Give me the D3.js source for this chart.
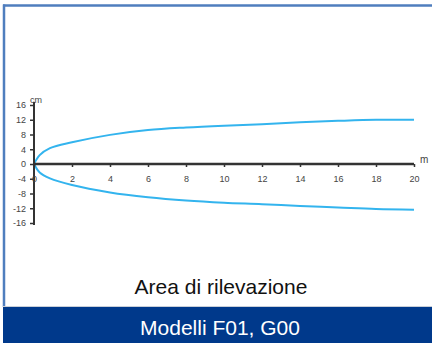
<!DOCTYPE html>
<html lang="it">
<head>
<meta charset="UTF-8">
<title>Area di rilevazione</title>
<style>
    body { margin: 0; background: #fff; }
    svg text { font-family: 'Liberation Sans', Arial, sans-serif; }
</style>
<script src="https://d3js.org/d3.v7.min.js"></script>
</head>
<body>
<svg width="432" height="343"></svg>
<script>
    // distance in m
    const distances = [0, 0.3, 0.84, 2, 4, 6, 8, 10, 12, 14, 16, 18, 20];
    // upper and lower boundary in cm
    const upperValues = [0, 2.4, 4.3, 5.9, 7.9, 9.2, 9.9, 10.4, 10.8, 11.3, 11.7, 12, 12];
    const lowerValues = [0, -2.3, -3.9, -5.7, -7.7, -9, -9.9, -10.5, -10.9, -11.4, -11.8, -12.2, -12.4];
    const xTicks = [0, 2, 4, 6, 8, 10, 12, 14, 16, 18, 20];
    const yTicks = [16, 12, 8, 4, 0, -4, -8, -12, -16];
    const title = "Area di rilevazione";
    const footer = "Modelli F01, G00";

    const width = 432, height = 343;
    const svg = d3.select("svg");

    // frame
    svg.append("rect").attr("x", 0).attr("y", 0).attr("width", width).attr("height", height).attr("fill", "#fff");
    svg.append("line").attr("x1", 3).attr("x2", width).attr("y1", 5.5).attr("y2", 5.5)
        .attr("stroke", "#4f7ebe").attr("stroke-width", 2.5);
    svg.append("line").attr("x1", 4).attr("x2", 4).attr("y1", 4.5).attr("y2", 307)
        .attr("stroke", "#4f7ebe").attr("stroke-width", 2.5);
    svg.append("line").attr("x1", 3).attr("x2", width).attr("y1", 306.5).attr("y2", 306.5)
        .attr("stroke", "#c9cfd8").attr("stroke-width", 1);
    svg.append("rect").attr("x", 3).attr("y", 307).attr("width", width - 3).attr("height", height - 307)
        .attr("fill", "#00398b");

    const x = d3.scaleLinear().domain([0, 20]).range([34, 414]);
    const y = d3.scaleLinear().domain([-16, 16]).range([223, 105]);

    // curves
    const line = d3.line().x(d => x(d[0])).y(d => y(d[1])).curve(d3.curveCatmullRom.alpha(0.5));
    [upperValues, lowerValues].forEach(vals => {
        svg.append("path")
            .datum(distances.map((m, i) => [m, vals[i]]))
            .attr("d", line)
            .attr("fill", "none")
            .attr("stroke", "#33b4ee")
            .attr("stroke-width", 2);
    });

    const fmt = d => String(d);

    // y axis
    const yAxis = svg.append("g")
        .attr("transform", `translate(${x(0)},0)`)
        .call(d3.axisLeft(y).tickValues(yTicks).tickFormat(fmt).tickSize(4).tickPadding(4));
    yAxis.select(".domain").attr("stroke", "#333").attr("stroke-width", 2)
        .attr("d", `M0,${y(16) - 3}V${y(-16) + 2}`);
    yAxis.selectAll(".tick line").attr("stroke", "#333").attr("stroke-width", 1.5);
    yAxis.selectAll(".tick text").attr("fill", "#444").style("font-size", "9px");

    // x axis
    const xAxis = svg.append("g")
        .attr("transform", `translate(0,${y(0)})`)
        .call(d3.axisBottom(x).tickValues(xTicks).tickFormat(fmt).tickSize(3).tickPadding(9));
    xAxis.select(".domain").attr("stroke", "#333").attr("stroke-width", 2.5)
        .attr("d", `M${x(0)},0H${x(20)}`);
    xAxis.selectAll(".tick line").attr("stroke", "#333").attr("stroke-width", 1.5);
    xAxis.selectAll(".tick text").attr("fill", "#444").style("font-size", "9px");

    // units
    svg.append("text").attr("x", x(0) + 2).attr("y", y(16) - 2).attr("text-anchor", "middle")
        .style("font-size", "9px").attr("fill", "#444").text("cm");
    svg.append("text").attr("x", x(20) + 6).attr("y", y(0) - 1)
        .style("font-size", "10px").attr("fill", "#444").text("m");

    svg.append("text").attr("x", 221).attr("y", 294).attr("text-anchor", "middle")
        .style("font-size", "21px").attr("fill", "#111").text(title);
    svg.append("text").attr("x", 220).attr("y", 335).attr("text-anchor", "middle")
        .style("font-size", "21px").attr("fill", "#fff").text(footer);
</script>
</body>
</html>
